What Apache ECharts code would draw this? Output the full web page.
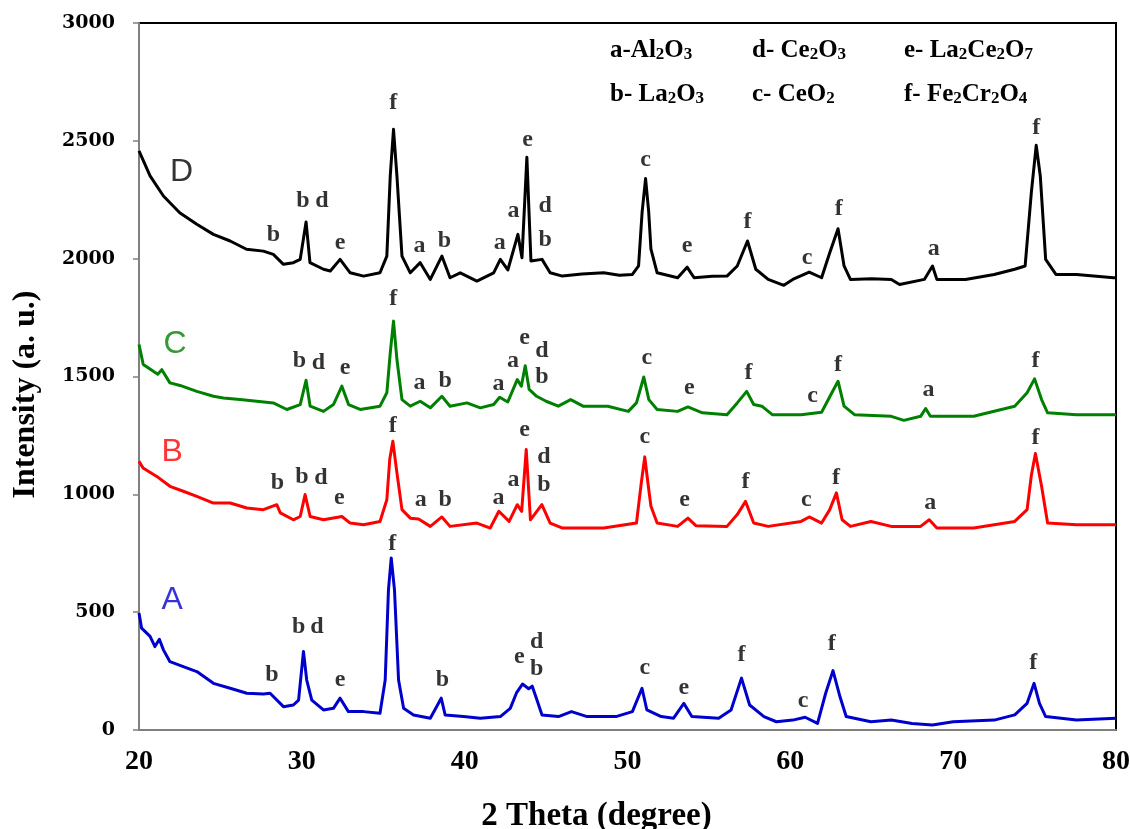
<!DOCTYPE html>
<html>
<head>
<meta charset="utf-8">
<script src="https://cdn.jsdelivr.net/npm/echarts/dist/echarts.min.js"></script>
<style>html,body{margin:0;padding:0;background:#fff}#c{width:1130px;height:829px}</style>
</head>
<body>
<div id="c"></div>
<script>
// ---- data (2θ, intensity) ----
const xTicks = [20, 30, 40, 50, 60, 70, 80];
const yTicks = [0, 500, 1000, 1500, 2000, 2500, 3000];

const dataD = [[20,2457],[20.68,2351],[21.5,2266],[22.5,2195],[23.55,2146],[24.57,2103],[25.6,2075],[26.6,2040],[27.64,2032],[28.25,2018],[28.87,1976],[29.48,1983],[29.9,1997],[30.26,2156],[30.5,1983],[31.33,1955],[31.75,1948],[32.35,1997],[32.97,1940],[33.79,1926],[34.8,1940],[35.22,2011],[35.43,2351],[35.63,2549],[35.84,2351],[36.15,2011],[36.66,1940],[37.27,1983],[37.89,1912],[38.6,2011],[39.1,1919],[39.73,1940],[40.75,1905],[41.78,1940],[42.19,1997],[42.65,1952],[43.27,2103],[43.52,2004],[43.82,2430],[44.07,1990],[44.75,1997],[45.25,1940],[46.0,1926],[47.2,1935],[48.54,1940],[49.5,1930],[50.3,1933],[50.68,1969],[50.9,2200],[51.11,2340],[51.3,2200],[51.44,2040],[51.82,1940],[53.08,1919],[53.66,1964],[54.09,1919],[55.2,1925],[56.11,1926],[56.74,1969],[57.37,2075],[57.88,1955],[58.64,1912],[59.6,1887],[60.15,1912],[61.16,1943],[61.92,1919],[62.42,2025],[62.93,2127],[63.3,1969],[63.69,1912],[65.0,1915],[66.2,1912],[66.71,1890],[68.23,1912],[68.73,1969],[69.0,1912],[70.76,1912],[72.52,1933],[73.78,1955],[74.42,1969],[74.8,2280],[75.1,2481],[75.35,2351],[75.68,1997],[76.31,1933],[77.57,1933],[78.8,1925],[79.85,1919],[80,1919]];

const dataC = [[20,1636],[20.26,1551],[20.88,1522],[21.15,1510],[21.4,1529],[21.9,1473],[22.52,1462],[23.55,1437],[24.57,1416],[25.18,1409],[26.2,1402],[27.23,1395],[28.25,1388],[29.08,1360],[29.9,1381],[30.26,1484],[30.51,1374],[31.33,1352],[31.94,1381],[32.46,1459],[32.87,1381],[33.58,1360],[34.8,1374],[35.22,1431],[35.43,1600],[35.63,1735],[35.84,1572],[36.15,1402],[36.66,1374],[37.27,1395],[37.89,1367],[38.6,1416],[39.1,1374],[40.14,1388],[40.96,1367],[41.78,1381],[42.15,1412],[42.65,1392],[43.23,1487],[43.48,1459],[43.72,1546],[43.96,1445],[44.42,1416],[45.0,1395],[45.75,1374],[46.51,1402],[47.27,1374],[48.79,1374],[50.05,1352],[50.55,1388],[51.0,1498],[51.31,1402],[51.82,1360],[53.08,1352],[53.71,1371],[54.6,1346],[56.11,1338],[56.74,1388],[57.32,1437],[57.75,1381],[58.25,1374],[58.89,1338],[60.66,1338],[61.92,1348],[62.55,1431],[62.93,1480],[63.3,1374],[63.94,1338],[66.2,1331],[66.97,1314],[68.0,1331],[68.31,1364],[68.6,1331],[71.26,1331],[73.78,1374],[74.54,1431],[75.0,1490],[75.43,1402],[75.8,1346],[77.57,1338],[80,1338]];

const dataB = [[20,1140],[20.25,1112],[21.09,1076],[21.9,1034],[22.72,1013],[23.55,991],[24.57,963],[25.6,963],[26.62,942],[27.64,935],[28.46,956],[28.68,921],[29.48,892],[29.9,906],[30.2,999],[30.51,906],[31.33,892],[32.46,906],[32.97,878],[33.79,871],[34.8,885],[35.22,977],[35.4,1150],[35.59,1225],[35.84,1091],[36.15,935],[36.66,899],[37.17,895],[37.89,864],[38.6,904],[39.1,864],[40.75,878],[41.57,857],[42.1,928],[42.73,885],[43.23,956],[43.5,928],[43.78,1190],[44.04,892],[44.74,956],[45.25,878],[46.01,857],[48.54,857],[50.55,878],[50.85,1050],[51.06,1159],[51.25,1050],[51.44,949],[51.82,878],[53.08,864],[53.71,899],[54.2,867],[56.11,864],[56.74,914],[57.25,970],[57.75,878],[58.64,864],[60.66,885],[61.16,904],[61.92,878],[62.42,935],[62.83,1006],[63.18,892],[63.69,864],[64.95,885],[66.2,864],[68.0,864],[68.53,892],[69.0,857],[71.26,857],[73.78,885],[74.54,935],[74.8,1080],[75.05,1173],[75.43,1034],[75.8,878],[77.57,871],[80,871]];

const dataA = [[20,496],[20.16,432],[20.68,397],[20.98,354],[21.25,385],[21.5,340],[21.9,290],[22.72,269],[23.55,248],[24.57,198],[25.6,177],[26.62,156],[27.64,153],[28.05,156],[28.87,99],[29.48,106],[29.8,127],[30.1,333],[30.3,212],[30.61,127],[31.33,85],[31.94,92],[32.35,135],[32.86,78],[33.79,78],[34.8,71],[35.12,212],[35.32,595],[35.49,730],[35.69,595],[35.94,212],[36.25,92],[36.86,64],[37.89,50],[38.56,135],[38.8,64],[39.93,57],[40.96,50],[42.19,57],[42.8,92],[43.2,160],[43.55,195],[43.93,175],[44.15,186],[44.44,127],[44.75,64],[45.76,57],[46.56,78],[47.52,57],[49.29,57],[50.3,78],[50.89,177],[51.19,85],[52.07,57],[52.83,50],[53.46,113],[53.95,57],[55.6,50],[56.36,85],[57.0,220],[57.5,106],[58.38,57],[59.14,35],[60.15,42],[60.91,54],[61.67,28],[62.17,156],[62.62,252],[63.05,141],[63.43,57],[64.95,35],[66.2,42],[67.47,28],[68.73,21],[70.0,35],[72.52,42],[73.78,64],[74.54,113],[74.97,198],[75.3,113],[75.68,57],[77.57,42],[80,50]];

// peak phase letters [2θ, intensity, letter]
const peaksD = [[28.25,2103,'b'],[30.06,2245,'b'],[31.23,2245,'d'],[32.35,2068,'e'],[35.61,2660,'f'],[37.23,2054,'a'],[38.75,2075,'b'],[42.15,2068,'a'],[43.0,2202,'a'],[43.87,2504,'e'],[44.95,2226,'d'],[44.95,2082,'b'],[51.11,2419,'c'],[53.66,2056,'e'],[57.37,2156,'f'],[61.03,2004,'c'],[62.98,2212,'f'],[68.81,2043,'a'],[75.1,2557,'f']];
const peaksC = [[29.85,1565,'b'],[31.02,1558,'d'],[32.66,1537,'e'],[35.61,1831,'f'],[37.23,1473,'a'],[38.81,1483,'b'],[42.08,1470,'a'],[42.97,1565,'a'],[43.68,1664,'e'],[44.74,1607,'d'],[44.74,1498,'b'],[51.19,1579,'c'],[53.79,1452,'e'],[57.43,1516,'f'],[61.36,1419,'c'],[62.93,1551,'f'],[68.48,1442,'a'],[75.05,1565,'f']];
const peaksB = [[28.5,1048,'b'],[30.0,1076,'b'],[31.17,1069,'d'],[32.31,985,'e'],[35.59,1289,'f'],[37.31,977,'a'],[38.81,977,'b'],[42.08,985,'a'],[43.0,1062,'a'],[43.68,1275,'e'],[44.87,1161,'d'],[44.87,1041,'b'],[51.06,1246,'c'],[53.51,977,'e'],[57.25,1055,'f'],[60.98,977,'c'],[62.8,1069,'f'],[68.6,963,'a'],[75.05,1239,'f']];
const peaksA = [[28.16,234,'b'],[29.8,436,'b'],[30.92,436,'d'],[32.35,212,'e'],[35.55,790,'f'],[38.64,212,'b'],[43.36,309,'e'],[44.42,375,'d'],[44.42,258,'b'],[51.06,262,'c'],[53.46,177,'e'],[57.0,319,'f'],[60.78,123,'c'],[62.55,365,'f'],[74.92,286,'f']];

// sample names [2θ, intensity, name]
const sampleNames = [[22.62,2369,'D'],[22.21,1636,'C'],[22.03,1181,'B'],[22.03,552,'A']];

// phase key
const keyRow1 = ['{n|a-Al}{s|2}{n|O}{s|3}', '{n|d- Ce}{s|2}{n|O}{s|3}', '{n|e- La}{s|2}{n|Ce}{s|2}{n|O}{s|7}'];
const keyRow2 = ['{n|b- La}{s|2}{n|O}{s|3}', '{n|c- CeO}{s|2}', '{n|f- Fe}{s|2}{n|Cr}{s|2}{n|O}{s|4}'];

// ---- chart ----
const chart = echarts.init(document.getElementById('c'), null, {renderer: 'canvas'});
const serif = 'Liberation Serif';
const lineColors = {A: '#0000cc', B: '#ff0000', C: '#008000', D: '#000000'};
const sampleColors = ['#000000', '#008000', '#ff0000', '#0000cc'];

function lineSeries(name, data) {
  return {
    name: name, type: 'line', data: data, showSymbol: false, symbol: 'none',
    smooth: false, silent: true, animation: false,
    lineStyle: {color: lineColors[name], width: 3, join: 'round'}, z: 3
  };
}
function letterSeries(data) {
  return {
    type: 'scatter', data: data, symbolSize: 0, silent: true, animation: false, z: 5,
    label: {show: true, position: 'inside', formatter: p => p.value[2],
      fontFamily: serif, fontWeight: 'bold', fontSize: 24, color: '#000'}
  };
}

const rich = {
  n: {fontFamily: serif, fontWeight: 'bold', fontSize: 25, lineHeight: 26, color: '#000'},
  s: {fontFamily: serif, fontWeight: 'bold', fontSize: 17, lineHeight: 18, verticalAlign: 'bottom', color: '#000'}
};
const keyLeft = [610, 752, 904];
const graphics = [];
keyRow1.forEach((t, i) => graphics.push({type: 'text', left: keyLeft[i], top: 38, style: {text: t, rich: rich}}));
keyRow2.forEach((t, i) => graphics.push({type: 'text', left: keyLeft[i], top: 82, style: {text: t, rich: rich}}));

chart.setOption({
  backgroundColor: '#fff',
  animation: false,
  grid: {left: 139, right: 14, top: 23, bottom: 99, containLabel: false, outerBoundsMode: 'none',
    show: true, borderColor: '#000', borderWidth: 2, backgroundColor: 'transparent'},
  xAxis: {
    type: 'value', min: xTicks[0], max: xTicks[xTicks.length - 1], interval: 10,
    axisLine: {show: true, lineStyle: {color: '#808080', width: 2}},
    axisTick: {show: false}, splitLine: {show: false},
    axisLabel: {margin: 18, fontFamily: serif, fontWeight: 'bold', fontSize: 28, color: '#000', formatter: v => String(v)},
    name: '2 Theta (degree)', nameLocation: 'middle', nameGap: 70,
    nameTextStyle: {fontFamily: serif, fontWeight: 'bold', fontSize: 33, color: '#000', padding: [0, 62, 0, 0]}
  },
  yAxis: {
    type: 'value', min: yTicks[0], max: yTicks[yTicks.length - 1], interval: 500,
    axisLine: {show: true, lineStyle: {color: '#808080', width: 2}},
    axisTick: {show: true, inside: false, length: 6, lineStyle: {color: '#808080', width: 1.5}},
    splitLine: {show: false},
    axisLabel: {margin: 24, fontFamily: 'DejaVu Serif', fontWeight: 'bold', fontSize: 19, color: '#000', formatter: v => String(v)},
    name: 'Intensity (a. u.)', nameLocation: 'middle', nameGap: 97, nameRotate: 90,
    nameTextStyle: {fontFamily: serif, fontWeight: 'bold', fontSize: 32, color: '#000', padding: [0, 36, 0, 0]}
  },
  graphic: graphics,
  series: [
    lineSeries('D', dataD), lineSeries('C', dataC), lineSeries('B', dataB), lineSeries('A', dataA),
    letterSeries(peaksD), letterSeries(peaksC), letterSeries(peaksB), letterSeries(peaksA),
    {
      type: 'scatter', symbolSize: 0, silent: true, animation: false, z: 5,
      data: sampleNames.map((d, i) => ({value: d, label: {color: sampleColors[i]}})),
      label: {show: true, position: 'inside', formatter: p => p.value[2],
        fontFamily: 'Liberation Sans', fontSize: 32}
    }
  ]
});
</script>
</body>
</html>
